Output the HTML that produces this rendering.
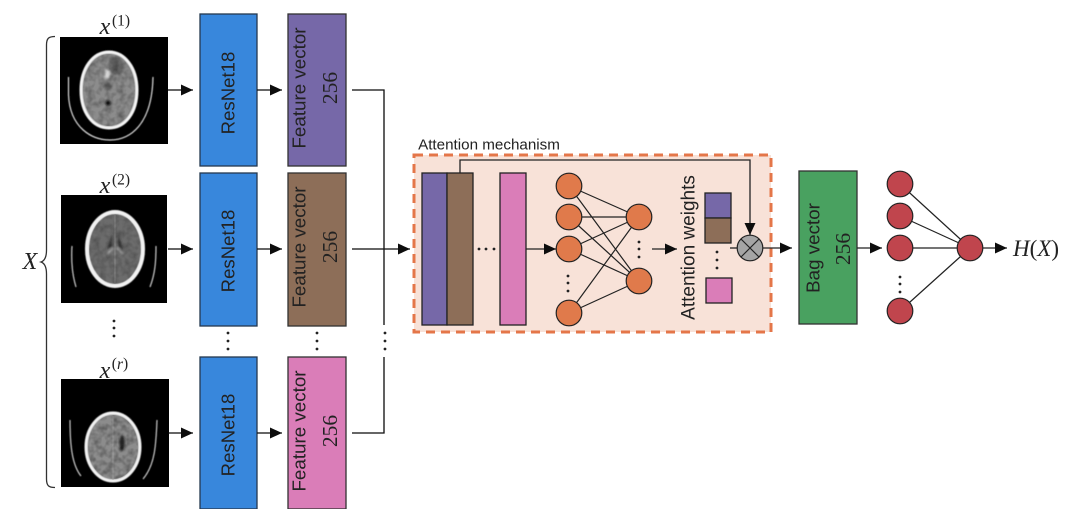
<!DOCTYPE html>
<html><head><meta charset="utf-8"><style>
html,body{margin:0;padding:0;background:#fff;width:1076px;height:515px;overflow:hidden}
svg{display:block}
.s{font-family:"Liberation Sans",sans-serif;fill:#222}
.n{font-family:"Liberation Serif",serif;fill:#222}
.m{font-family:"Liberation Serif",serif;font-style:italic;fill:#222}
text{text-anchor:middle;dominant-baseline:central}
</style></head><body>
<svg width="1076" height="515" viewBox="0 0 1076 515" xmlns="http://www.w3.org/2000/svg">
<defs>
<filter id="b" x="-30%" y="-30%" width="160%" height="160%"><feGaussianBlur stdDeviation="1.100"/></filter>
<filter id="c" x="-20%" y="-20%" width="140%" height="140%"><feGaussianBlur stdDeviation="0.450"/></filter>
<filter id="t" x="0" y="0" width="100%" height="100%">
<feTurbulence type="fractalNoise" baseFrequency="0.16" numOctaves="2" seed="4" result="n"/>
<feColorMatrix in="n" type="matrix" values="0 0 0 0 0  0 0 0 0 0  0 0 0 0 0  1.600 0 0 0 -0.550" result="d"/>
<feComposite in="d" in2="SourceAlpha" operator="in"/>
</filter>
<filter id="soft" x="0" y="0" width="100%" height="100%"><feGaussianBlur stdDeviation="0.300"/></filter>
<marker id="a" markerUnits="userSpaceOnUse" markerWidth="12" markerHeight="12" refX="12" refY="6" orient="auto"><path d="M0 0.500L12 6L0 11.500Z" fill="#111"/></marker>
</defs>
<g filter="url(#soft)">

<!-- CT 1 -->
<rect x="60" y="37" width="108" height="107" fill="#000"/>
<g filter="url(#c)">
<path d="M109 52C125 52 137 68 137 90C137 113 125 128 109 128C93 128 81 113 81 90C81 68 93 52 109 52Z" fill="#8c8c8c" stroke="#f4f4f4" stroke-width="3"/>
<path d="M68.500 77V95C70 128 92 140 110 140C130 140 152 125 153 77" fill="none" stroke="#ddd" stroke-width="1.200"/>
</g>
<g filter="url(#b)">
<ellipse cx="116" cy="66" rx="8" ry="9" fill="#666"/>
<ellipse cx="107" cy="74" rx="3" ry="5" fill="#d5d5d5"/>
<ellipse cx="108" cy="103" rx="2.500" ry="2.500" fill="#111"/>
<ellipse cx="108" cy="87" rx="4" ry="4" fill="#666"/>
</g>
<ellipse cx="109" cy="90" rx="26" ry="36" fill="#000" filter="url(#t)" opacity="0.350"/>
<!-- CT 2 -->
<rect x="61" y="195" width="106" height="108" fill="#000"/>
<g filter="url(#c)">
<ellipse cx="115" cy="249" rx="28" ry="37" fill="#6c6c6c" stroke="#f2f2f2" stroke-width="4"/>
<path d="M72 246C71 262 72 274 76 287M156 246C156 262 155 274 150 287" fill="none" stroke="#ccc" stroke-width="1.200"/>
</g>
<g filter="url(#b)">
<path d="M112 233L107 250L112 246ZM118 233L123 250L118 246Z" fill="#333"/>
<path d="M107 254L113 248M123 254L117 248" stroke="#ddd" stroke-width="1"/>
</g>
<path d="M115 214V284" stroke="#999" stroke-width="0.700"/>
<ellipse cx="115" cy="249" rx="26" ry="35" fill="#000" filter="url(#t)" opacity="0.250"/>
<!-- CT 3 -->
<rect x="61" y="379" width="108" height="108" fill="#000"/>
<g filter="url(#c)">
<ellipse cx="113" cy="447" rx="27" ry="34" fill="#8c8c8c" stroke="#f2f2f2" stroke-width="3"/>
<path d="M70 420C70 445 72 465 81 476M157 420C156 445 155 465 143 479" fill="none" stroke="#ccc" stroke-width="1.200"/>
</g>
<g filter="url(#b)">
<ellipse cx="122" cy="443" rx="2.500" ry="8" fill="#222"/>
</g>
<path d="M113 416V480" stroke="#aaa" stroke-width="0.700"/>
<ellipse cx="113" cy="447" rx="25" ry="32" fill="#000" filter="url(#t)" opacity="0.400"/>

<!-- brace and X -->
<path d="M55 36.500C49 36.500 46.500 38 46.500 45V250C46.500 258 44 261 41 262C44 263 46.500 266 46.500 274V479C46.500 486 49 487.500 55 487.500" fill="none" stroke="#333" stroke-width="1.300"/>
<text class="m" x="30" y="262" font-size="24">X</text>

<!-- x labels -->
<text class="m" x="105" y="27" font-size="24">x</text><text class="n" x="121" y="21" font-size="15.500">(1)</text>
<text class="m" x="105" y="186" font-size="24">x</text><text class="n" x="121" y="180" font-size="15.500">(2)</text>
<text class="m" x="105" y="371" font-size="24">x</text><text class="n" x="120" y="364" font-size="15.500">(<tspan font-style="italic">r</tspan>)</text>

<!-- ResNet boxes -->
<g fill="#3887dc" stroke="#26374f" stroke-width="1.300">
<rect x="200" y="14" width="57" height="152"/>
<rect x="200" y="173" width="57" height="153"/>
<rect x="200" y="357" width="57" height="152"/>
</g>
<text class="s" font-size="18.600" transform="translate(228 93) rotate(-90)">ResNet18</text>
<text class="s" font-size="18.600" transform="translate(228 251) rotate(-90)">ResNet18</text>
<text class="s" font-size="18.600" transform="translate(228 435) rotate(-90)">ResNet18</text>

<!-- Feature boxes -->
<g stroke="#333" stroke-width="1.300">
<rect x="288" y="14" width="58" height="152" fill="#7668a8"/>
<rect x="288" y="173" width="58" height="153" fill="#8d6e58"/>
<rect x="288" y="357" width="58" height="152" fill="#da7db8"/>
</g>
<text class="s" font-size="18.800" transform="translate(299 88) rotate(-90)">Feature vector</text>
<text class="n" font-size="21.500" transform="translate(330 88) rotate(-90)">256</text>
<text class="s" font-size="18.800" transform="translate(299 247) rotate(-90)">Feature vector</text>
<text class="n" font-size="21.500" transform="translate(330 247) rotate(-90)">256</text>
<text class="s" font-size="18.800" transform="translate(299 431) rotate(-90)">Feature vector</text>
<text class="n" font-size="21.500" transform="translate(330 431) rotate(-90)">256</text>

<!-- Left arrows -->
<g stroke="#111" stroke-width="1.300" fill="none">
<path d="M168 90H193" marker-end="url(#a)"/>
<path d="M257 90H282" marker-end="url(#a)"/>
<path d="M168 249H193" marker-end="url(#a)"/>
<path d="M257 249H282" marker-end="url(#a)"/>
<path d="M168 433H193" marker-end="url(#a)"/>
<path d="M257 433H282" marker-end="url(#a)"/>
<path d="M352 90H384V325"/>
<path d="M352 433H384V357"/>
<path d="M352 249H410" marker-end="url(#a)"/>
</g>

<!-- Dots -->
<g fill="#222">
<circle cx="114" cy="321" r="1.400"/><circle cx="114" cy="328" r="1.400"/><circle cx="114" cy="336" r="1.400"/>
<circle cx="228" cy="333" r="1.400"/><circle cx="228" cy="341" r="1.400"/><circle cx="228" cy="349" r="1.400"/>
<circle cx="317" cy="333" r="1.400"/><circle cx="317" cy="341" r="1.400"/><circle cx="317" cy="349" r="1.400"/>
<circle cx="385" cy="333" r="1.400"/><circle cx="385" cy="341" r="1.400"/><circle cx="385" cy="349" r="1.400"/>
</g>

<!-- Attention box -->
<rect x="414" y="155" width="357" height="177" fill="#f8e2d8" stroke="#e4764a" stroke-width="3" stroke-dasharray="9 6"/>
<text class="s" font-size="15.200" x="489" y="145">Attention mechanism</text>

<g stroke="#222" stroke-width="1.300">
<rect x="422" y="173" width="25" height="152" fill="#7668a8"/>
<rect x="447" y="173" width="26" height="152" fill="#8d6e58"/>
<rect x="500" y="173" width="26" height="152" fill="#da7db8"/>
</g>
<g fill="#222">
<circle cx="479" cy="249" r="1.400"/><circle cx="486" cy="249" r="1.400"/><circle cx="494" cy="249" r="1.400"/>
</g>

<g stroke="#222" stroke-width="1.200" fill="none">
<path d="M569 186L639 217M569 186L639 281M569 217L639 217M569 217L639 281M569 249L639 217M569 249L639 281M569 313L639 217M569 313L639 281"/>
<path d="M460 173V160H750V235" stroke-width="1.300" marker-end="url(#a)"/>
<path d="M526 249H556" marker-end="url(#a)" stroke-width="1.300"/>
<path d="M652 249H677" marker-end="url(#a)" stroke-width="1.300"/>
</g>
<g fill="#e07a4c" stroke="#222" stroke-width="1.200">
<circle cx="569" cy="186" r="12.800"/><circle cx="569" cy="217" r="12.800"/><circle cx="569" cy="249" r="12.800"/><circle cx="569" cy="313" r="12.800"/>
<circle cx="639" cy="217" r="12.800"/><circle cx="639" cy="281" r="12.800"/>
</g>
<g fill="#222">
<circle cx="568" cy="276" r="1.400"/><circle cx="568" cy="283" r="1.400"/><circle cx="568" cy="291" r="1.400"/>
<circle cx="639" cy="242" r="1.400"/><circle cx="639" cy="249" r="1.400"/><circle cx="639" cy="257" r="1.400"/>
<circle cx="717" cy="252" r="1.400"/><circle cx="717" cy="260" r="1.400"/><circle cx="717" cy="268" r="1.400"/>
</g>
<text class="s" font-size="19" transform="translate(689 247.500) rotate(-90)">Attention weights</text>
<g stroke="#222" stroke-width="1.300">
<rect x="705" y="193" width="26" height="25" fill="#7668a8"/>
<rect x="705" y="218" width="26" height="25" fill="#8d6e58"/>
<rect x="706" y="278" width="26" height="25" fill="#da7db8"/>
</g>

<!-- Otimes -->
<g stroke="#222" stroke-width="1.300" fill="none">
<path d="M730 248H737"/>
<path d="M763 248H792" marker-end="url(#a)"/>
</g>
<circle cx="750" cy="248" r="12.800" fill="#a5a5a5" stroke="#222" stroke-width="1.200"/>
<path d="M741 239L759 257M759 239L741 257" stroke="#222" stroke-width="1.200"/>

<!-- Bag -->
<rect x="799" y="171" width="58" height="153" fill="#4aa160" stroke="#333" stroke-width="1.300"/>
<text class="s" font-size="18.800" transform="translate(813 248) rotate(-90)">Bag vector</text>
<text class="n" font-size="21.500" transform="translate(843 249) rotate(-90)">256</text>

<!-- Output net -->
<g stroke="#222" stroke-width="1.200" fill="none">
<path d="M900 184L970 248M900 216L970 248M900 248H970M900 311L970 248"/>
<path d="M857 248H882" marker-end="url(#a)" stroke-width="1.300"/>
<path d="M983 248H1007" marker-end="url(#a)" stroke-width="1.300"/>
</g>
<g fill="#c0454d" stroke="#222" stroke-width="1.200">
<circle cx="900" cy="184" r="12.800"/><circle cx="900" cy="216" r="12.800"/><circle cx="900" cy="248" r="12.800"/><circle cx="900" cy="311" r="12.800"/>
<circle cx="970" cy="248" r="12.800"/>
</g>
<g fill="#222">
<circle cx="900" cy="277" r="1.400"/><circle cx="900" cy="284" r="1.400"/><circle cx="900" cy="292" r="1.400"/>
</g>
<text class="m" x="1036" y="248" font-size="23"><tspan>H</tspan><tspan font-style="normal">(</tspan><tspan>X</tspan><tspan font-style="normal">)</tspan></text>
</g>
</svg>
</body></html>
